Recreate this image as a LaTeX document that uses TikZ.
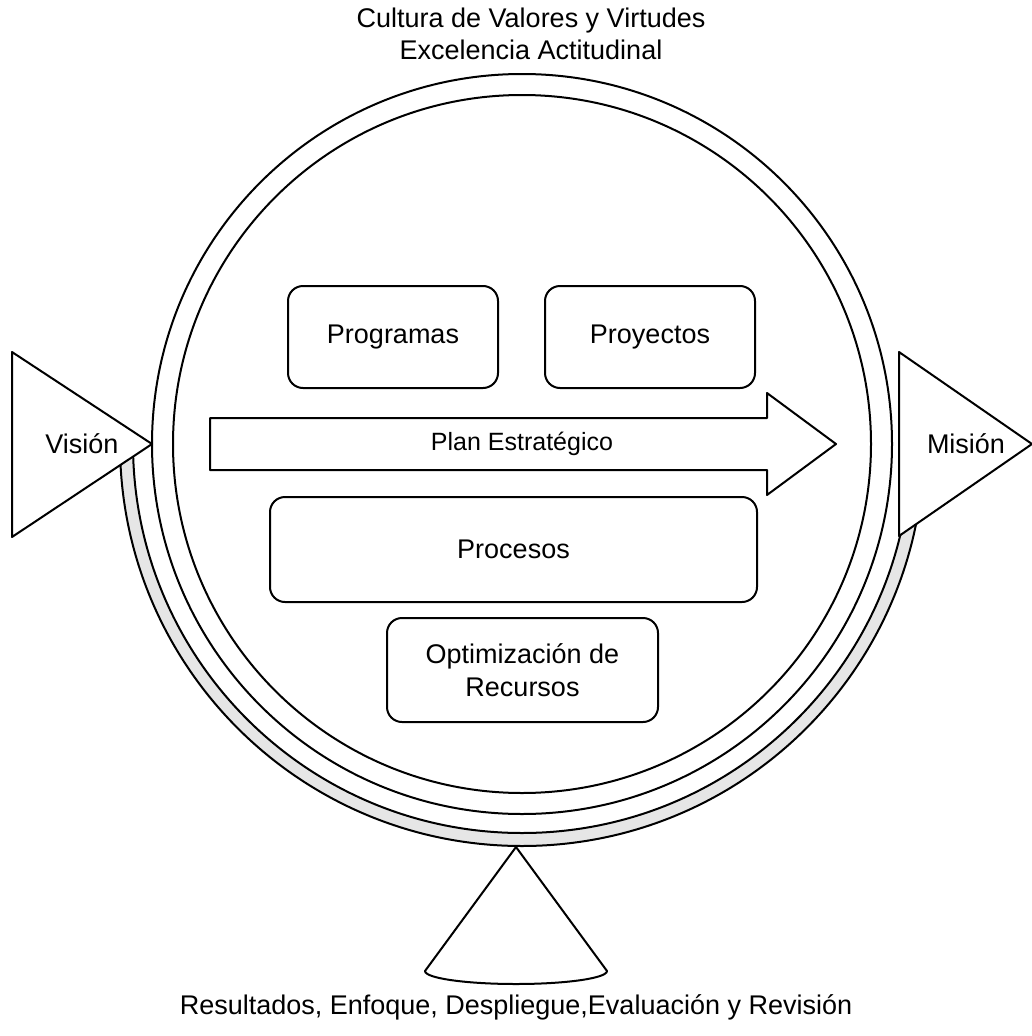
\documentclass[tikz,border=0pt]{standalone}
\usepackage{fontspec}
\usetikzlibrary{calc}
\setmainfont{Liberation Sans}
\newcommand\dfont{\fontsize{27}{32.6}\selectfont}
\newcommand\sfont{\fontsize{25}{30}\selectfont}
\definecolor{bandgray}{HTML}{E6E6E6}
\begin{document}
\begin{tikzpicture}[x=1pt,y=-1pt,line width=2pt,line join=round,
  roundbox/.style={draw,fill=white,rounded corners=15pt,font=\dfont,align=center,inner sep=0pt},
  plainlabel/.style={font=\dfont,align=center,inner sep=0pt}]
\useasboundingbox (0,0) rectangle (1032,1036);
\coordinate (c) at (522,444);

% grey band under the lower half of the ring
\draw[fill=bandgray] ($(c)+(180:402)$) arc[start angle=180,end angle=0,radius=402]
  -- ($(c)+(0:389)$) arc[start angle=0,end angle=180,radius=389] -- cycle;

% double ring
\draw[fill=white] (c) circle[radius=370];
\draw[fill=white] (c) circle[radius=349];

% base cone
\coordinate (apex) at (516,847);
\draw[fill=white] (apex) -- (425,971) arc[start angle=180,end angle=0,x radius=91,y radius=13] -- cycle;

% side triangles
\draw[fill=white] (12,352) -- (152,444) -- (12,537) -- cycle;
\draw[fill=white] (899,352) -- (1032,444) -- (899,536) -- cycle;
\node[plainlabel] (vision) at (82,444) {Visión};
\node[plainlabel] (mision) at (966,444) {Misión};

% strategic plan arrow
\draw[fill=white] (210,418) -- (767,418) -- (767,393) -- (836,444) -- (767,495) -- (767,470) -- (210,470) -- cycle;
\node[font=\sfont,inner sep=0pt] (plan) at (522,444) {Plan Estratégico};

% boxes
\node[roundbox,minimum width=210pt,minimum height=102pt] (programas) at (393,337) {Programas};
\node[roundbox,minimum width=210pt,minimum height=102pt] (proyectos) at (650,337) {Proyectos};
\node[roundbox,minimum width=487pt,minimum height=105pt] (procesos) at (513.5,549.5) {Procesos};
\node[roundbox,minimum width=271pt,minimum height=104pt] (recursos) at (522.5,670) {Optimización de\\Recursos};

% captions
\node[plainlabel] (cultura) at (531,34) {Cultura de Valores y Virtudes\\Excelencia Actitudinal};
\node[plainlabel] (resultados) at (516,1007) {Resultados, Enfoque, Despliegue,Evaluación y Revisión};
\end{tikzpicture}
\end{document}
